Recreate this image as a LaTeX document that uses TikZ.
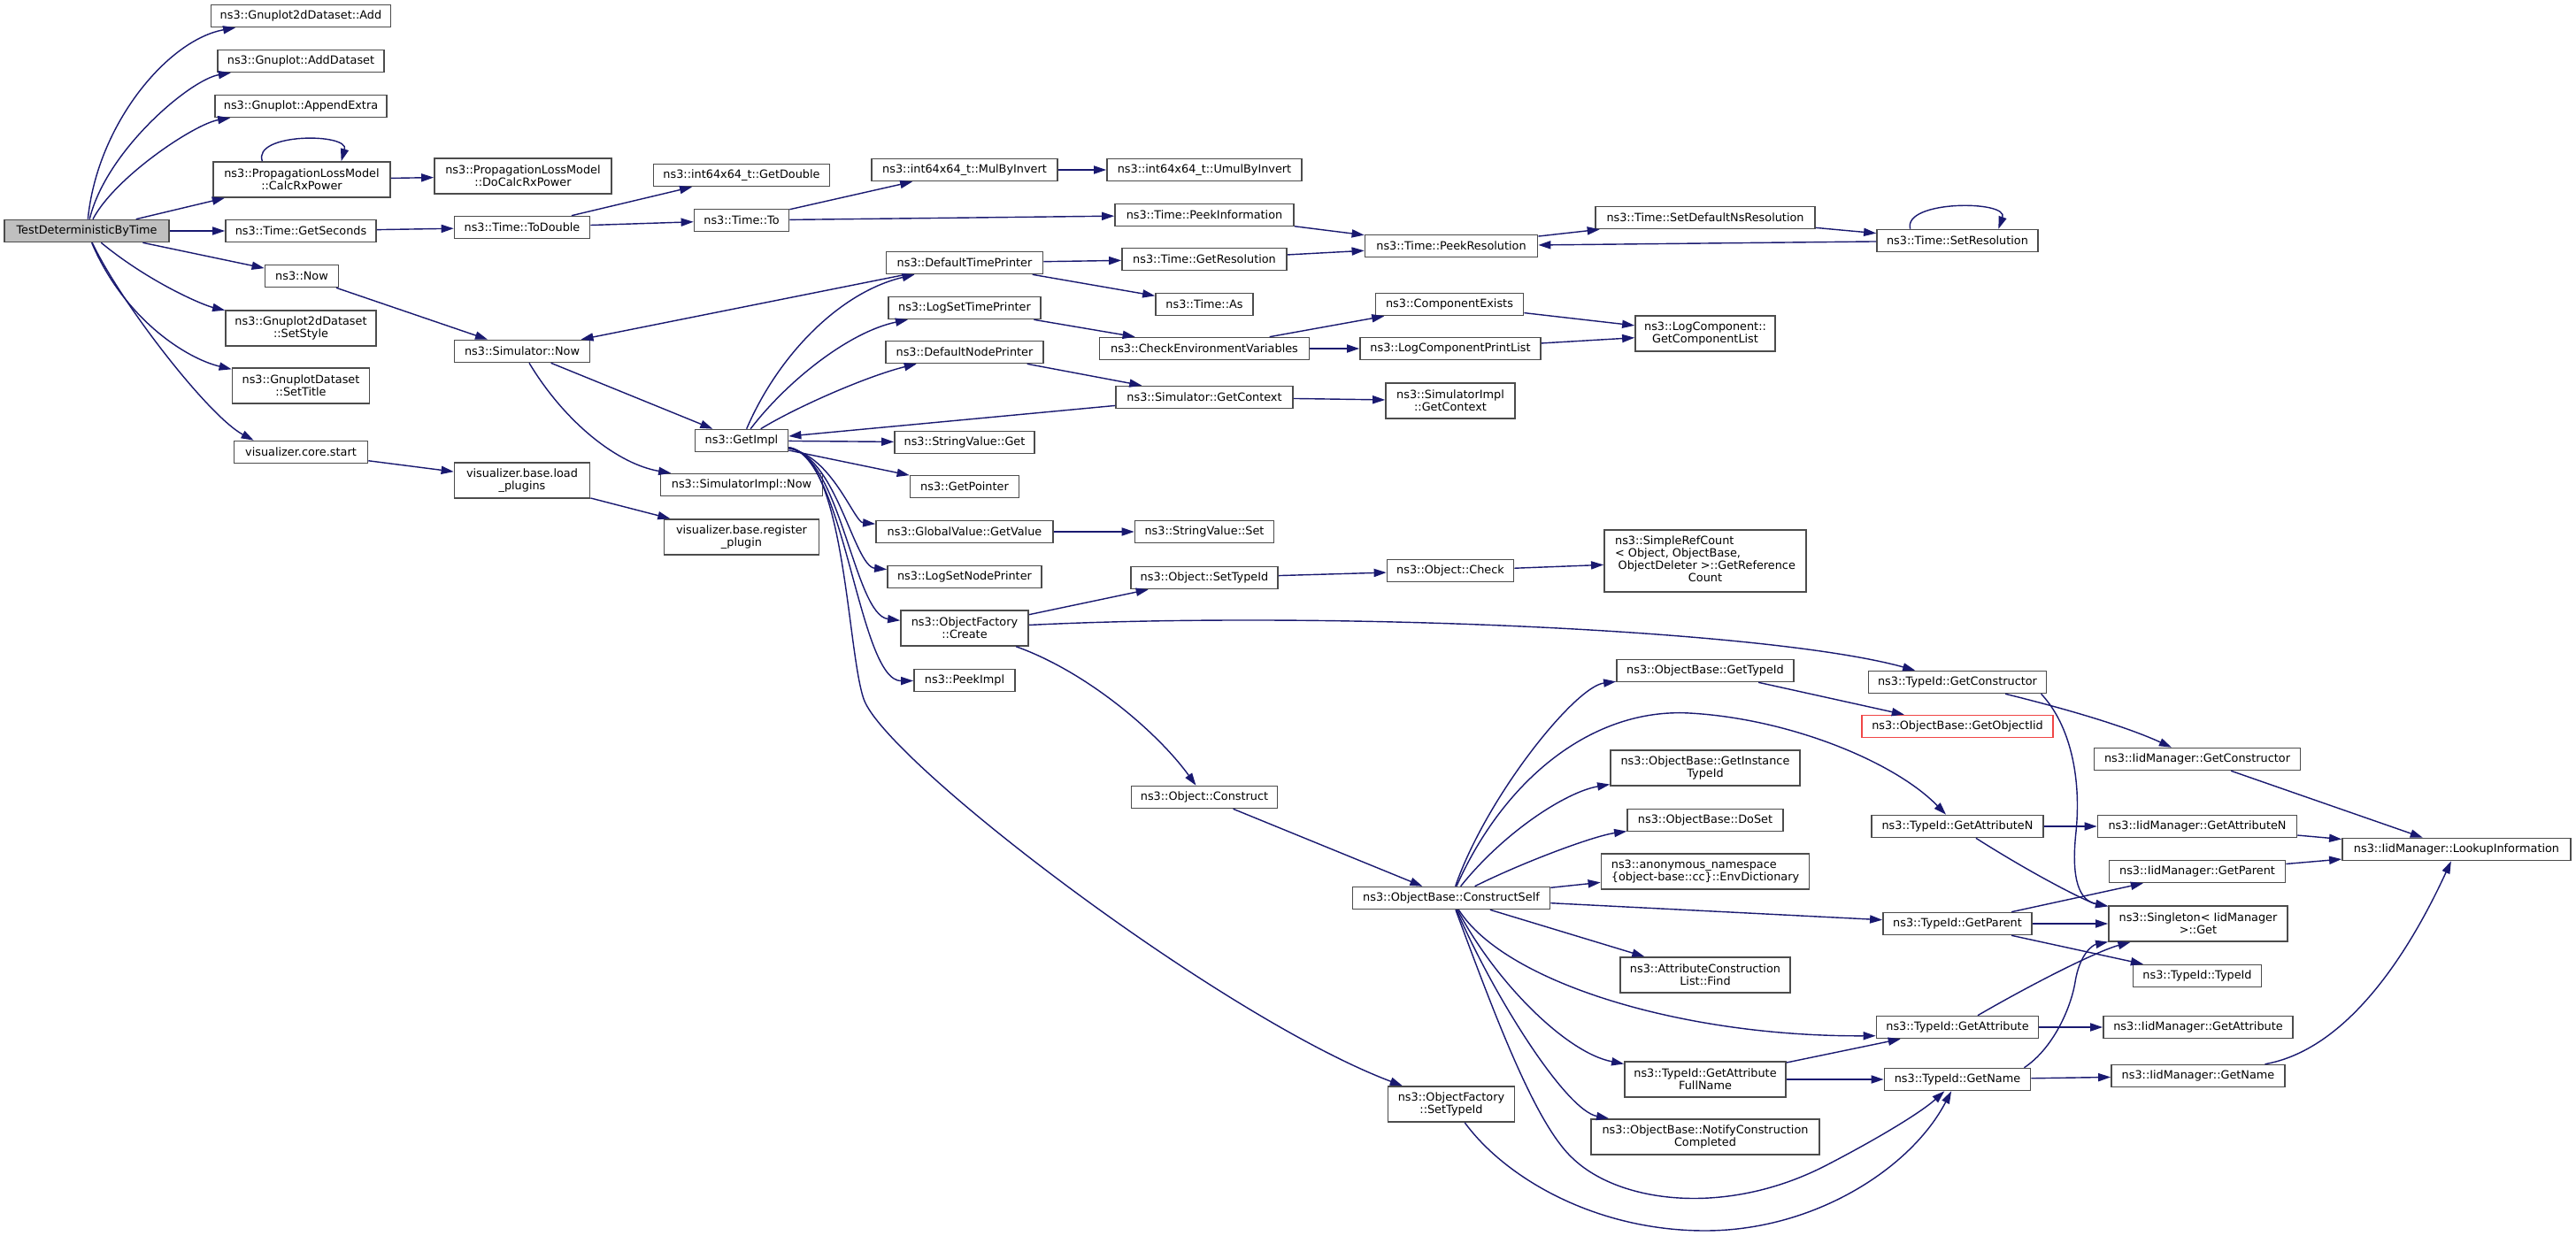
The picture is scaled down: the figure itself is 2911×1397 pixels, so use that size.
\documentclass[tikz,border=0pt]{standalone}
\usepackage{fontspec}
\setmainfont{DejaVu Sans}
\usepackage{tikz}
\usetikzlibrary{arrows.meta}
\definecolor{callblue}{RGB}{25,25,112}
\definecolor{truncred}{RGB}{240,70,70}
\newcommand{\graphfont}{\fontsize{3.65}{4}\selectfont}
\tikzset{
	fn/.style={draw=black!70, fill=white, line width=0.45pt, inner sep=0pt,
		minimum height=0.25cm, align=center, font=\graphfont},
	fn2/.style={fn, minimum height=0.4cm},
	root/.style={fn, fill=black!25},
	trunc/.style={fn, draw=truncred},
	call/.style={-{Triangle[length=4pt,width=2.6pt]}, draw=callblue, line width=0.4pt},
}

\begin{document}
\begin{tikzpicture}[x=0.01cm, y=-0.01cm]
		% page in pixel units, y grows downwards
		\path[use as bounding box, fill=white] (0,0) rectangle (2911,1397);

		% column 1 and 2
		\node[root, minimum width=1.86cm] (tdbt) at (98,261) {TestDeterministicByTime};
		\node[fn, minimum width=2.03cm] (add) at (340,18) {ns3::Gnuplot2dDataset::Add};
		\node[fn, minimum width=1.88cm] (adddataset) at (340,69) {ns3::Gnuplot::AddDataset};
		\node[fn, minimum width=1.94cm] (appendextra) at (340,120) {ns3::Gnuplot::AppendExtra};
		\node[fn2, minimum width=2.00cm] (calcrx) at (341,203) {ns3::PropagationLossModel\\::CalcRxPower};
		\node[fn, minimum width=1.70cm] (getseconds) at (340,261) {ns3::Time::GetSeconds};
		\node[fn, minimum width=0.83cm] (now) at (341,312) {ns3::Now};
		\node[fn2, minimum width=1.70cm] (setstyle) at (340,371) {ns3::Gnuplot2dDataset\\::SetStyle};
		\node[fn2, minimum width=1.55cm] (settitle) at (340,436) {ns3::GnuplotDataset\\::SetTitle};
		\node[fn, minimum width=1.51cm] (vcorestart) at (340,511) {visualizer.core.start};

		% column 3 and 4
		\node[fn2, minimum width=2.00cm] (docalcrx) at (591,199) {ns3::PropagationLossModel\\::DoCalcRxPower};
		\node[fn, minimum width=1.53cm] (todouble) at (590,257) {ns3::Time::ToDouble};
		\node[fn, minimum width=1.53cm] (simnow) at (590,397) {ns3::Simulator::Now};
		\node[fn2, minimum width=1.53cm] (loadplugins) at (590,543) {visualizer.base.load\\\_plugins};
		\node[fn, minimum width=1.99cm] (getdouble) at (838,198) {ns3::int64x64\_t::GetDouble};
		\node[fn, minimum width=1.07cm] (timeto) at (838,249) {ns3::Time::To};
		\node[fn, minimum width=1.05cm] (getimpl) at (838,498) {ns3::GetImpl};
		\node[fn, minimum width=1.83cm] (simimplnow) at (838,548) {ns3::SimulatorImpl::Now};
		\node[fn2, minimum width=1.75cm] (registerplugin) at (838,607) {visualizer.base.register\\\_plugin};

		% column 5
		\node[fn, minimum width=2.10cm] (mulbyinvert) at (1090,192) {ns3::int64x64\_t::MulByInvert};
		\node[fn, minimum width=1.77cm] (dtp) at (1090,297) {ns3::DefaultTimePrinter};
		\node[fn, minimum width=1.72cm] (lstp) at (1090,348) {ns3::LogSetTimePrinter};
		\node[fn, minimum width=1.78cm] (dnp) at (1090,398) {ns3::DefaultNodePrinter};
		\node[fn, minimum width=1.58cm] (stringget) at (1090,500) {ns3::StringValue::Get};
		\node[fn, minimum width=1.23cm] (getpointer) at (1090,550) {ns3::GetPointer};
		\node[fn, minimum width=2.00cm] (getvalue) at (1090,601) {ns3::GlobalValue::GetValue};
		\node[fn, minimum width=1.74cm] (lsnp) at (1090,652) {ns3::LogSetNodePrinter};
		\node[fn2, minimum width=1.44cm] (ofcreate) at (1090,710) {ns3::ObjectFactory\\::Create};
		\node[fn, minimum width=1.14cm] (peekimpl) at (1090,769) {ns3::PeekImpl};

		% column 6
		\node[fn, minimum width=2.20cm] (umulbyinvert) at (1361,192) {ns3::int64x64\_t::UmulByInvert};
		\node[fn, minimum width=2.02cm] (peekinfo) at (1361,243) {ns3::Time::PeekInformation};
		\node[fn, minimum width=1.86cm] (getresolution) at (1361,293) {ns3::Time::GetResolution};
		\node[fn, minimum width=1.10cm] (timeas) at (1361,344) {ns3::Time::As};
		\node[fn, minimum width=2.37cm] (checkenv) at (1361,394) {ns3::CheckEnvironmentVariables};
		\node[fn, minimum width=2.00cm] (simgetcontext) at (1361,449) {ns3::Simulator::GetContext};
		\node[fn, minimum width=1.57cm] (stringset) at (1361,601) {ns3::StringValue::Set};
		\node[fn, minimum width=1.66cm] (objsettypeid) at (1361,653) {ns3::Object::SetTypeId};
		\node[fn, minimum width=1.65cm] (objconstruct) at (1361,901) {ns3::Object::Construct};

		% column 7
		\node[fn, minimum width=1.95cm] (peekresolution) at (1640,278) {ns3::Time::PeekResolution};
		\node[fn, minimum width=1.67cm] (componentexists) at (1638,344) {ns3::ComponentExists};
		\node[fn, minimum width=2.04cm] (logcompprintlist) at (1639,394) {ns3::LogComponentPrintList};
		\node[fn2, minimum width=1.46cm] (simimplgetcontext) at (1639,453) {ns3::SimulatorImpl\\::GetContext};
		\node[fn, minimum width=1.43cm] (objcheck) at (1639,645) {ns3::Object::Check};
		\node[fn, minimum width=2.23cm] (constructself) at (1640,1015) {ns3::ObjectBase::ConstructSelf};
		\node[fn2, minimum width=1.43cm] (ofsettypeid) at (1640,1248) {ns3::ObjectFactory\\::SetTypeId};

		% column 8
		\node[fn, minimum width=2.48cm] (setdefaultns) at (1927,246) {ns3::Time::SetDefaultNsResolution};
		\node[fn2, minimum width=1.58cm] (getcomplist) at (1927,377) {ns3::LogComponent::\\GetComponentList};
		\node[fn, minimum width=2.28cm, minimum height=0.7cm] (simplerefcount) at (1927,634)
			{\begin{tabular}{@{}l@{}}ns3::SimpleRefCount\\< Object, ObjectBase,\\\kern1pt ObjectDeleter >::GetReference\\\multicolumn{1}{@{}c@{}}{Count}\end{tabular}};
		\node[fn, minimum width=2.00cm] (obgettypeid) at (1927,758) {ns3::ObjectBase::GetTypeId};
		\node[fn2, minimum width=2.14cm] (getinstancetypeid) at (1927,868) {ns3::ObjectBase::GetInstance\\TypeId};
		\node[fn, minimum width=1.76cm] (doset) at (1927,927) {ns3::ObjectBase::DoSet};
		\node[fn2, minimum width=2.35cm, align=left] (envdict) at (1927,985) {ns3::anonymous\_namespace\\\{object-base::cc\}::EnvDictionary};
		\node[fn2, minimum width=1.92cm] (acfind) at (1927,1102) {ns3::AttributeConstruction\\List::Find};
		\node[fn2, minimum width=1.82cm] (getattrfullname) at (1927,1220) {ns3::TypeId::GetAttribute\\FullName};
		\node[fn2, minimum width=2.58cm] (notifycc) at (1927,1285) {ns3::ObjectBase::NotifyConstruction\\Completed};

		% column 9
		\node[fn, minimum width=1.82cm] (setresolution) at (2212,272) {ns3::Time::SetResolution};
		\node[fn, minimum width=2.01cm] (tgetconstructor) at (2212,771) {ns3::TypeId::GetConstructor};
		\node[trunc, minimum width=2.16cm] (getobjectiid) at (2212,821) {ns3::ObjectBase::GetObjectIid};
		\node[fn, minimum width=1.94cm] (tgetattributen) at (2212,934) {ns3::TypeId::GetAttributeN};
		\node[fn, minimum width=1.68cm] (tgetparent) at (2212,1044) {ns3::TypeId::GetParent};
		\node[fn, minimum width=1.83cm] (tgetattribute) at (2212,1161) {ns3::TypeId::GetAttribute};
		\node[fn, minimum width=1.65cm] (tgetname) at (2212,1220) {ns3::TypeId::GetName};

		% column 10 and 11
		\node[fn, minimum width=2.33cm] (igetconstructor) at (2483,858) {ns3::IidManager::GetConstructor};
		\node[fn, minimum width=2.25cm] (igetattributen) at (2483,934) {ns3::IidManager::GetAttributeN};
		\node[fn, minimum width=1.99cm] (igetparent) at (2483,985) {ns3::IidManager::GetParent};
		\node[fn2, minimum width=2.02cm] (singleton) at (2484,1044) {ns3::Singleton< IidManager\\>::Get};
		\node[fn, minimum width=1.45cm] (typeidtypeid) at (2483,1103) {ns3::TypeId::TypeId};
		\node[fn, minimum width=2.14cm] (igetattribute) at (2484,1161) {ns3::IidManager::GetAttribute};
		\node[fn, minimum width=1.96cm] (igetname) at (2484,1216) {ns3::IidManager::GetName};
		\node[fn, minimum width=2.58cm] (lookupinfo) at (2776,960) {ns3::IidManager::LookupInformation};

		% calls from the test
		\draw[call] (tdbt) .. controls (110,140) and (190,45) .. (add);
		\draw[call] (tdbt) .. controls (120,170) and (215,90) .. (adddataset);
		\draw[call] (tdbt) .. controls (130,200) and (220,140) .. (appendextra);
		\draw[call] (tdbt) -- (calcrx);
		\draw[call] (tdbt) -- (getseconds);
		\draw[call] (tdbt) -- (now);
		\draw[call] (tdbt) .. controls (170,320) and (230,345) .. (setstyle);
		\draw[call] (tdbt) .. controls (140,360) and (210,405) .. (settitle);
		\draw[call] (tdbt) .. controls (135,340) and (235,470) .. (vcorestart.166);

		\draw[call] (calcrx.155) .. controls (285,150) and (395,150) .. (calcrx.25);
		\draw[call] (calcrx) -- (docalcrx);
		\draw[call] (getseconds) -- (todouble);
		\draw[call] (todouble) -- (getdouble);
		\draw[call] (todouble) -- (timeto);
		\draw[call] (timeto) -- (mulbyinvert);
		\draw[call] (timeto) -- (peekinfo);
		\draw[call] (mulbyinvert) -- (umulbyinvert);
		\draw[call] (peekinfo) -- (peekresolution);
		\draw[call] (getresolution) -- (peekresolution);
		\draw[call] (peekresolution) -- (setdefaultns);
		\draw[call] (setdefaultns) -- (setresolution);
		\draw[call] (setresolution) -- (peekresolution);
		\draw[call] (setresolution.166) .. controls (2150,226) and (2270,226) .. (setresolution.16);

		\draw[call] (now) -- (simnow);
		\draw[call] (simnow) -- (getimpl);
		\draw[call] (simnow) .. controls (640,480) and (700,525) .. (simimplnow);
		\draw[call] (vcorestart) -- (loadplugins);
		\draw[call] (loadplugins) -- (registerplugin);

		\draw[call] (dtp) -- (simnow);
		\draw[call] (dtp) -- (getresolution);
		\draw[call] (dtp) -- (timeas);
		\draw[call] (lstp) -- (checkenv);
		\draw[call] (dnp) -- (simgetcontext);
		\draw[call] (simgetcontext) -- (getimpl);
		\draw[call] (simgetcontext) -- (simimplgetcontext);
		\draw[call] (checkenv) -- (componentexists);
		\draw[call] (checkenv) -- (logcompprintlist);
		\draw[call] (componentexists) -- (getcomplist);
		\draw[call] (logcompprintlist) -- (getcomplist);

		% fan out of GetImpl
		\draw[call] (getimpl) .. controls (880,400) and (950,330) .. (dtp);
		\draw[call] (getimpl) .. controls (890,430) and (960,375) .. (lstp);
		\draw[call] (getimpl) .. controls (900,460) and (980,425) .. (dnp);
		\draw[call] (getimpl) -- (stringget);
		\draw[call] (getimpl) -- (getpointer);
		\draw[call] (getimpl) .. controls (940,515) and (965,590) .. (getvalue);
		\draw[call] (getimpl) .. controls (945,515) and (965,640) .. (lsnp);
		\draw[call] (getimpl) .. controls (950,515) and (965,695) .. (ofcreate);
		\draw[call] (getimpl) .. controls (955,515) and (970,770) .. (peekimpl);
		\draw[call] (getimpl) .. controls (955,515) and (957,734) .. (976,790)
			.. controls (1000,860) and (1380,1150) .. (ofsettypeid);

		\draw[call] (getvalue) -- (stringset);
		\draw[call] (ofcreate) -- (objsettypeid);
		\draw[call] (objsettypeid) -- (objcheck);
		\draw[call] (objcheck) -- (simplerefcount);
		\draw[call] (ofcreate) .. controls (1500,690) and (2000,712) .. (tgetconstructor);
		\draw[call] (ofcreate) .. controls (1230,760) and (1310,830) .. (objconstruct);
		\draw[call] (objconstruct) -- (constructself);

		% fan out of ConstructSelf
		\draw[call] (constructself) .. controls (1680,900) and (1780,776) .. (obgettypeid);
		\draw[call] (constructself) .. controls (1700,880) and (1800,800) .. (1909,806)
			.. controls (2020,812) and (2140,860) .. (tgetattributen);
		\draw[call] (constructself) .. controls (1700,940) and (1770,895) .. (getinstancetypeid);
		\draw[call] (constructself) .. controls (1720,975) and (1800,945) .. (doset);
		\draw[call] (constructself) -- (envdict);
		\draw[call] (constructself) -- (tgetparent);
		\draw[call] (constructself) -- (acfind);
		\draw[call] (constructself) .. controls (1700,1110) and (1900,1172) .. (tgetattribute.186);
		\draw[call] (constructself) .. controls (1690,1110) and (1770,1190) .. (getattrfullname);
		\draw[call] (constructself) .. controls (1690,1130) and (1770,1255) .. (notifycc);
		\draw[call] (constructself) .. controls (1690,1150) and (1735,1270) .. (1777,1309)
			.. controls (1830,1360) and (1950,1375) .. (2062,1318)
			.. controls (2120,1288) and (2170,1258) .. (tgetname);
		\draw[call] (ofsettypeid) .. controls (1700,1330) and (1800,1390) .. (1924,1391)
			.. controls (2050,1392) and (2160,1320) .. (tgetname);

		% TypeId and IidManager
		\draw[call] (obgettypeid) -- (getobjectiid);
		\draw[call] (tgetconstructor) .. controls (2330,800) and (2400,820) .. (igetconstructor);
		\draw[call] (tgetconstructor.-8) .. controls (2340,820) and (2352,880) .. (2346,940)
			.. controls (2340,995) and (2350,1018) .. (singleton);
		\draw[call] (tgetattributen) -- (igetattributen);
		\draw[call] (tgetattributen) .. controls (2300,990) and (2360,1020) .. (singleton);
		\draw[call] (tgetparent) -- (igetparent);
		\draw[call] (tgetparent) -- (singleton);
		\draw[call] (tgetparent) -- (typeidtypeid);
		\draw[call] (tgetattribute) -- (igetattribute);
		\draw[call] (tgetattribute) .. controls (2300,1110) and (2370,1075) .. (singleton);
		\draw[call] (getattrfullname) -- (tgetattribute);
		\draw[call] (getattrfullname) -- (tgetname);
		\draw[call] (tgetname) -- (igetname);
		\draw[call] (tgetname.10) .. controls (2320,1185) and (2340,1140) .. (2345,1110)
			.. controls (2350,1078) and (2365,1068) .. (singleton);
		\draw[call] (igetconstructor) -- (lookupinfo);
		\draw[call] (igetattributen) -- (lookupinfo);
		\draw[call] (igetparent) -- (lookupinfo);
		\draw[call] (igetname) .. controls (2660,1185) and (2730,1060) .. (lookupinfo);
	\end{tikzpicture}
\end{document}
